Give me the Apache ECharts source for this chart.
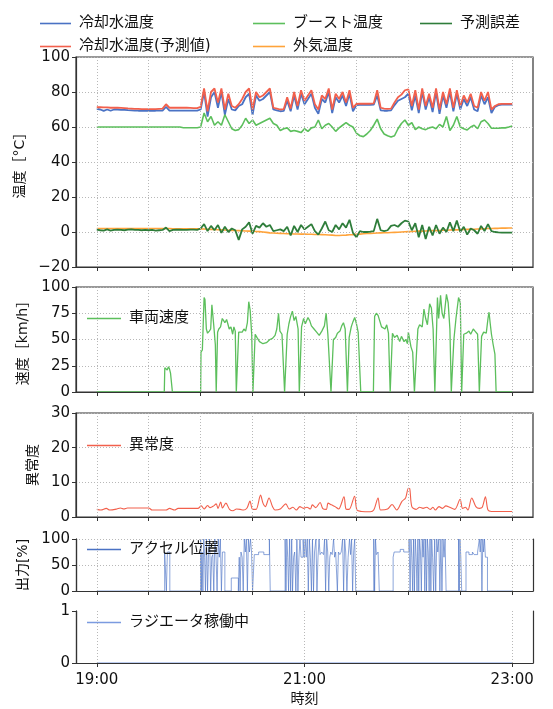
<!DOCTYPE html>
<html>
<head>
<meta charset="utf-8">
<script src="https://cdn.jsdelivr.net/npm/echarts@6/dist/echarts.min.js"></script>
<style>
  html, body { margin: 0; padding: 0; background: #fff; }
  #chart { width: 553px; height: 709px; }
</style>
</head>
<body>
<div id="chart"></div>
<script>
// 時刻は 19:00 からの経過分
var tempTimes = [0,2,4,6,8,10,12,14,16,18,20,22,24,26,28,30,32,34,36,38,
  40,42,44,46,48,50,52,54,56,58,60,62,64,66,68,70,72,74,76,78,
  80,82,84,86,88,90,92,94,96,98,100,102,104,106,108,110,112,114,116,118,
  120,122,124,126,128,130,132,134,136,138,140,142,144,146,148,150,152,154,156,158,
  160,162,164,166,168,170,172,174,176,178,180,182,184,186,188,190,192,194,196,198,
  200,202,204,206,208,210,212,214,216,218,220,222,224,226,228,230,232,234,236,238,240];

var coolant = [70.3,70.0,69.2,70.0,69.3,70.0,70.0,69.8,69.8,69.6,69.5,69.4,69.3,69.3,69.3,69.3,69.3,69.3,69.4,69.4,
  71.5,69.4,69.4,69.4,69.4,69.4,69.4,69.4,69.4,69.4,70.0,80.0,66.0,77.0,80.0,71.0,80.0,67.0,76.0,70.0,
  69.5,72.0,73.0,77.0,79.0,67.0,78.0,75.0,76.0,78.0,80.0,70.0,69.5,69.0,69.2,75.0,69.0,78.0,70.0,79.0,
  73.0,76.0,79.0,71.0,67.5,76.0,74.0,80.0,68.0,77.0,74.0,78.0,72.0,79.0,69.0,72.5,72.6,72.6,72.6,72.6,
  72.8,78.0,69.5,69.3,69.3,69.5,72.5,75.0,76.0,77.0,79.0,69.5,78.0,68.0,80.0,70.0,77.0,68.5,80.0,67.5,
  78.0,71.0,80.0,69.0,79.0,70.0,76.0,72.0,77.0,70.0,69.0,78.0,73.0,77.0,68.0,71.5,72.5,72.8,72.8,72.8,72.8];

var coolantPred = [71.3,71.3,71.2,71.2,71.0,71.0,71.0,70.9,70.8,70.6,70.5,70.4,70.3,70.2,70.2,70.2,70.2,70.2,70.4,70.5,
  73.0,71.0,71.0,71.0,71.0,71.0,71.0,70.9,70.8,70.8,71.5,82.0,69.0,80.0,82.0,74.0,82.0,70.0,79.0,72.0,
  71.0,73.0,76.0,80.0,82.0,70.0,80.0,77.0,78.0,80.0,82.0,71.0,70.5,70.0,70.2,77.0,70.5,80.0,72.0,81.0,
  75.0,78.0,81.0,73.0,70.0,78.0,76.0,82.0,70.0,79.0,76.0,80.0,74.0,81.0,71.0,73.2,73.3,73.3,73.3,73.3,
  73.5,81.0,71.0,70.5,70.3,70.5,74.0,77.0,78.5,81.0,81.5,72.0,81.0,70.0,82.0,72.0,79.0,71.0,82.0,70.0,
  80.0,73.0,82.0,71.0,81.0,72.0,78.0,74.0,79.0,72.0,71.0,80.0,75.0,80.0,70.0,72.0,73.0,73.2,73.2,73.2,73.2];

var boost = [60,60,60,60,60,60,60,60,60,60,60,60,60,60,60,60,60,60,60,60,
  60,60,60,60,60,59.6,59.6,59.6,59.6,59.6,60.0,68.0,63.0,66.0,61.0,63.0,61.0,67.0,63.0,59.0,
  58.0,58.5,61.0,65.0,62.0,64.0,61.0,62.0,63.0,64.0,65.0,62.0,61.0,58.0,59.0,59.5,57.5,58.0,57.5,56.8,
  59.0,57.5,59.5,60.0,64.0,59.0,61.0,62.0,60.0,57.5,59.5,61.0,62.5,61.0,60.0,56.5,55.0,54.5,56.0,58.0,
  61.0,64.5,59.0,56.0,55.0,54.3,55.0,59.0,62.0,64.0,61.0,62.5,58.5,60.0,59.0,58.5,59.5,60.0,59.0,61.5,
  60.0,66.0,58.0,61.0,66.0,60.0,59.0,58.3,60.0,61.0,59.0,63.0,64.0,62.0,59.3,59.3,59.3,59.5,59.5,60.0,60.6];

var outside = [2.0,2.0,2.0,2.0,2.0,2.0,2.0,2.0,2.0,2.0,2.0,2.0,2.0,2.0,2.0,2.0,2.0,2.0,2.0,2.0,
  2.0,2.0,1.9,1.9,1.9,1.9,1.9,1.9,1.8,1.8,1.8,1.7,1.6,1.5,1.4,1.3,1.2,1.1,1.0,0.9,
  0.9,0.8,0.7,0.6,0.5,0.4,0.3,0.2,0.0,-0.2,-0.5,-0.6,-0.7,-0.8,-0.9,-1.0,-1.0,-1.1,-1.1,-1.2,
  -1.2,-1.3,-1.3,-1.4,-1.4,-1.5,-1.6,-1.7,-1.8,-2.0,-2.0,-1.9,-1.8,-1.6,-1.5,-1.3,-1.2,-1.0,-0.9,-0.8,
  -0.7,-0.6,-0.5,-0.4,-0.4,-0.3,-0.2,-0.1,0.0,0.1,0.2,0.3,0.4,0.5,0.5,0.6,0.7,0.8,0.8,0.9,
  1.0,1.0,1.1,1.2,1.2,1.3,1.4,1.5,1.5,1.6,1.7,1.8,1.9,2.0,2.0,2.1,2.1,2.2,2.2,2.3,2.3];

var predError = [1.3,1.0,0.8,1.5,0.8,1.2,1.3,1.2,1.0,1.3,1.5,1.2,1.2,1.0,1.2,1.0,1.2,0.8,1.0,1.2,
  2.5,0.5,1.2,1.3,1.3,1.2,1.2,1.4,1.3,1.2,2.0,4.5,0.5,3.5,1.0,4.0,-0.5,3.0,0.0,2.0,
  1.0,-4.5,1.5,3.0,5.5,-1.0,3.5,2.5,5.0,3.0,4.0,0.5,1.0,1.5,0.5,3.0,-2.0,3.5,0.0,4.0,
  1.5,3.0,4.5,0.5,-1.5,2.0,6.0,1.0,0.0,4.0,1.5,5.0,2.5,7.0,-0.5,-3.0,0.5,0.0,0.0,0.2,
  0.5,7.5,1.0,0.5,1.0,3.5,4.0,3.0,5.0,6.5,6.0,1.0,5.0,-3.0,4.0,-4.0,3.0,-2.0,4.0,-1.0,
  2.5,0.0,5.5,0.5,6.5,0.0,3.0,-1.5,2.0,1.0,-1.0,3.5,0.5,4.5,0.5,0.0,-0.2,-0.3,-0.3,-0.3,-0.3];

var speedTimes = [0,39,39.3,40,40.7,41.4,42,42.6,43.3,43.7,60,60.2,61,62,62.5,63.3,64,65,65.8,66.5,67.5,68.5,69,69.4,69.8,
  70.5,71.5,72.5,73.3,74,75,75.7,76.5,77.5,78.5,79.2,80,80.6,81.4,82,83,84,85,86,87,87.8,88.6,89.5,90.2,91,
  91.5,92.5,94,96,98,100,101.5,103,104,105,105.8,107,108.5,109.3,110,111,112,113,114,115,116.3,117,117.8,
  118.3,119.5,120.5,122,123,124,125.5,127,128.5,130,131.5,132.5,133.5,135.3,136,136.7,138,139,140.5,141.5,
  142.5,143.5,144.8,145.3,145.8,147,148,149,150,151,152.5,159.8,160.5,161.5,162.5,163.5,164.5,165.5,166.5,
  167.5,168.5,169.5,170.2,170.8,172,173.5,175,176,177.5,178.5,179.5,180,181.5,182.5,183.5,184.2,184.8,185.5,
  186.5,188,189,190,191,192.3,193.3,194.3,195.3,196,196.8,197.5,198.6,199.5,200.5,202,203,204,204.8,205.5,
  206.3,207.5,209,210,210.8,211.5,212,213.5,215,216,217.5,218.5,220,221,221.8,222.3,223.5,225,226,226.6,
  227.3,228,229,230,230.7,240];
var speed = [0,0,23,24,21,24,22,18,17,0,0,38,40,90,88,60,56,58,60,83,65,45,0,0,57,
  60,62,70,68,66,69,65,60,62,55,62,58,0,0,57,58,57,60,58,66,86,78,55,0,0,
  55,52,48,46,47,50,51,54,60,75,58,55,0,0,55,65,72,77,68,72,60,0,0,
  62,70,65,71,68,63,60,57,54,58,63,75,55,0,0,50,52,56,58,63,
  66,60,0,0,52,62,67,71,65,57,0,0,72,75,73,74,62,63,60,
  64,56,0,0,56,52,54,48,53,48,50,46,57,43,38,0,0,40,60,
  64,62,79,70,64,84,80,60,0,0,90,70,92,75,70,93,85,60,0,0,
  50,70,90,85,0,0,55,56,58,55,60,58,55,0,0,53,57,56,70,76,
  65,55,45,36,0,0];

var anomalyTimes = [0,2.4,5.5,7.5,11.6,13.6,15.7,17.7,30,32,40,42,45,47,58.4,60.4,62,64,65.5,67.5,
  69,70,71.6,72.6,74.6,76.7,78.7,80.7,82.8,84.8,86.8,88.5,90,92,94.6,96,97.4,99.5,101.5,103,
  106,109.2,111.2,113.3,115.3,117.3,119.4,121.4,123.4,124.5,126.5,129,130.6,132.6,133.6,135.6,137.7,139.7,142.8,144,
  145.8,148.9,150.3,153,158,160,162.5,164,168,170.6,173.3,176.3,178.4,180,180.8,182,184.5,186.5,188.5,190.6,
  192.6,194.2,195.6,197.7,199.7,201.7,203.8,206.8,209.9,211.3,213,214.4,216.6,219,221,222.7,224.5,226,228,240];
var anomaly = [2.2,2.0,2.5,2.0,2.3,2.6,2.3,2.6,2.6,2.0,2.0,2.5,2.0,2.5,2.5,3.2,2.3,3.3,2.7,3.2,
  3.8,2.5,4.3,2.6,4.0,2.2,1.8,2.3,2.2,2.0,2.6,4.6,2.2,2.2,6.3,4.0,3.0,5.5,3.0,2.0,
  2.3,3.8,2.3,2.8,2.0,3.0,2.5,2.8,2.3,3.5,2.7,4.2,2.4,2.2,4.0,3.5,3.0,2.3,5.8,2.3,
  2.2,6.0,2.0,1.6,1.5,2.0,5.5,2.0,2.3,3.6,2.0,4.5,5.5,8.3,8.2,3.0,2.2,2.8,2.5,2.8,
  2.2,2.8,2.0,3.0,2.5,3.2,2.8,2.2,5.1,2.5,2.8,2.0,5.5,3.0,2.5,2.8,5.8,2.0,1.6,1.6];

// アクセル位置 (値は次の時刻まで保持)
var accelTimes = [0,39.2,40.2,40.8,42.2,60,60.4,60.8,61.3,61.8,62.3,62.8,63.4,64,64.6,65.2,65.8,66.4,67,67.6,
  68.2,68.8,69.5,70.2,70.8,71.4,72,72.6,74,77.7,81.8,82.3,82.8,83.3,84,84.6,85.2,85.8,86.4,87,
  87.6,88.2,88.8,89.4,90,91,93.5,96.5,99.7,100.2,108.8,109.3,109.8,110.3,110.8,111.4,112,112.6,113.1,113.7,
  114.3,115,115.6,116.2,116.8,117.4,118,119.2,119.8,120.4,121,121.6,122.2,122.8,123.4,124,124.6,125.2,125.8,126.6,
  127.2,127.8,128.4,129,130,131,131.6,132.2,132.8,133.4,134,134.6,135.2,136,136.8,137.4,138,139,139.6,140.4,
  141.2,142,142.6,143.2,143.8,144.5,145.2,146,146.6,147.2,147.8,148.4,149,149.6,160,160.5,161,161.5,162.5,163.2,
  171.2,171.8,175.3,177.3,180.4,181,181.5,182,182.5,183,183.5,184,184.5,185,185.5,186,186.5,187,187.5,188,
  188.5,189,189.5,190,190.5,191,191.5,192,192.5,193,193.5,194,194.6,195.2,195.8,196.4,197,197.6,198.2,198.8,
  199.4,200,200.6,201.2,201.8,209,209.4,209.8,210.3,210.8,213.3,215,217,218,220,221,221.5,222,222.5,223,
  223.5,224,224.5,225.7,240];
var accel = [0,75,0,75,0,100,0,75,0,100,65,0,100,0,75,100,0,65,70,0,
  100,75,0,100,65,100,0,75,0,25,0,65,0,75,65,0,100,75,100,0,
  100,75,100,75,0,70,75,70,100,0,100,0,100,65,0,100,0,100,0,65,
  75,0,100,0,65,100,65,100,65,100,65,100,0,100,65,0,100,0,75,100,
  0,65,100,70,75,70,100,0,100,75,0,65,75,70,100,65,75,0,75,70,
  75,100,0,100,75,0,65,100,70,100,0,75,100,0,100,0,100,70,75,0,
  65,75,80,75,100,0,100,65,0,100,0,100,65,0,100,0,100,75,0,100,
  65,100,0,100,0,100,75,0,100,0,100,65,0,100,0,100,75,100,0,100,
  0,100,65,100,0,100,0,100,65,0,75,70,75,70,75,100,75,100,0,100,
  75,100,65,0,0];

var radiatorTimes = [0, 240];
var radiator = [0, 0];

var xTicks = [0, 30, 60, 90, 120, 150, 180, 210, 240];
var xLabels = [0, 120, 240];

function pairs(ts, vs) {
  return ts.map(function (t, i) { return [t, vs[i]]; });
}
function hhmm(v) {
  var h = 19 + Math.floor(v / 60), m = v % 60;
  return h + ':' + (m < 10 ? '0' : '') + m;
}
function minus(v) {
  return String(v).replace('-', '\u2212');
}

var FONT = "'DejaVu Sans', 'Noto Sans CJK JP', sans-serif";
var AXC = '#333';
var GRIDLINE = { type: [1, 2], color: '#b8b8b8', width: 1 };

var grids = [
  { top: 57, height: 210 },
  { top: 287, height: 105 },
  { top: 413, height: 104 },
  { top: 539, height: 52 },
  { top: 611, height: 52 }
].map(function (g, i) {
  return {
    left: 76, right: 20, top: g.top, height: g.height,
    show: i < 3, borderColor: AXC, borderWidth: 1.2,
    outerBoundsMode: 'none', containLabel: false
  };
});

function xAxis(i) {
  var last = i === 4;
  var ticks = last ? xLabels : xTicks;
  return {
    type: 'value', gridIndex: i, min: -12, max: 252, z: 5,
    axisLine: { show: true, onZero: false, lineStyle: { color: AXC, width: 1.2 } },
    axisTick: { show: true, length: 4, customValues: ticks, lineStyle: { color: AXC, width: 1 } },
    axisLabel: { show: last, customValues: xLabels, formatter: hhmm, fontFamily: FONT, fontSize: 15, color: '#111', margin: 10 },
    splitLine: { show: true, lineStyle: GRIDLINE },
    name: last ? '時刻' : '', nameLocation: 'middle', nameGap: 29,
    nameTextStyle: { fontFamily: FONT, fontSize: 14, color: '#111' }
  };
}

function yAxis(i, min, max, interval, name, gap) {
  return {
    type: 'value', gridIndex: i, position: 'left', min: min, max: max, interval: interval,
    axisLine: { show: true, onZero: false, lineStyle: { color: AXC, width: 1.2 } },
    axisTick: { show: true, length: 4, lineStyle: { color: AXC, width: 1 } },
    axisLabel: { fontFamily: FONT, fontSize: 15, color: '#111', margin: 6, formatter: minus },
    splitLine: { show: i < 4, lineStyle: GRIDLINE },
    name: name, nameLocation: 'middle', nameGap: gap,
    nameTextStyle: { fontFamily: FONT, fontSize: 14, color: '#111' }
  };
}

// 枠線だけの補助軸 (上枠なしのパネル用)
function spine(i, side) {
  return {
    type: 'value', gridIndex: i, position: side, min: 0, max: 1, z: 5,
    axisLine: { show: true, onZero: false, lineStyle: { color: AXC, width: 1.2 } },
    axisTick: { show: false }, axisLabel: { show: false }, splitLine: { show: false }
  };
}

function line(name, xi, ts, vs, color, width, extra) {
  var s = {
    name: name, type: 'line', xAxisIndex: xi, yAxisIndex: xi,
    data: pairs(ts, vs), symbol: 'none', showSymbol: false,
    lineStyle: { color: color, width: width }, itemStyle: { color: color },
    emphasis: { disabled: true }, silent: true
  };
  for (var k in extra) s[k] = extra[k];
  return s;
}

function legend(names, left, top, lineW, gap) {
  return {
    data: names, orient: 'vertical', left: left, top: top,
    icon: 'rect', itemWidth: lineW, itemHeight: 1.6, itemGap: gap || 8,
    selectedMode: false,
    textStyle: { fontFamily: FONT, fontSize: 15, color: '#111', padding: [0, 0, 0, 3] }
  };
}

var C_BLUE = '#4a72c4', C_RED = '#f2604c', C_GREEN = '#5cbf5c',
    C_DGREEN = '#2e7d3a', C_ORANGE = '#ffa33a';

var option = {
  animation: false,
  grid: grids,
  xAxis: [xAxis(0), xAxis(1), xAxis(2), xAxis(3), xAxis(4)],
  yAxis: [
    yAxis(0, -20, 100, 20, '温度［°C］', 46),
    yAxis(1, 0, 100, 25, '速度［km/h］', 42),
    yAxis(2, 0, 30, 10, '異常度', 35),
    yAxis(3, 0, 100, 50, '出力[%]', 43),
    yAxis(4, 0, 1, 1, '', 20),
    spine(3, 'right'), spine(4, 'right'), spine(3, 'left'), spine(4, 'left')
  ],
  legend: [
    legend(['冷却水温度', '冷却水温度(予測値)'], 35, 11, 31),
    legend(['ブースト温度', '外気温度'], 248, 11, 32),
    legend(['予測誤差'], 415, 11, 32),
    legend(['車両速度'], 82, 306, 34),
    legend(['異常度'], 82, 433, 34),
    legend(['アクセル位置'], 82, 537, 34),
    legend(['ラジエータ稼働中'], 82, 610, 34)
  ],
  series: [
    line('冷却水温度', 0, tempTimes, coolant, C_BLUE, 1.8),
    line('冷却水温度(予測値)', 0, tempTimes, coolantPred, C_RED, 1.8),
    line('ブースト温度', 0, tempTimes, boost, C_GREEN, 1.6),
    line('外気温度', 0, tempTimes, outside, C_ORANGE, 1.6),
    line('予測誤差', 0, tempTimes, predError, C_DGREEN, 1.8),
    line('車両速度', 1, speedTimes, speed, C_GREEN, 1.3),
    line('異常度', 2, anomalyTimes, anomaly, C_RED, 1.1, { smooth: 0.3 }),
    line('アクセル位置', 3, accelTimes, accel, C_BLUE, 0.8, { step: 'end', lineStyle: { color: C_BLUE, width: 0.8, opacity: 0.8 } }),
    line('ラジエータ稼働中', 4, radiatorTimes, radiator, '#7b9be0', 1, { z: 1 })
  ]
};

var myChart = echarts.init(document.getElementById('chart'), null, { renderer: 'canvas' });
myChart.setOption(option);
</script>
</body>
</html>
